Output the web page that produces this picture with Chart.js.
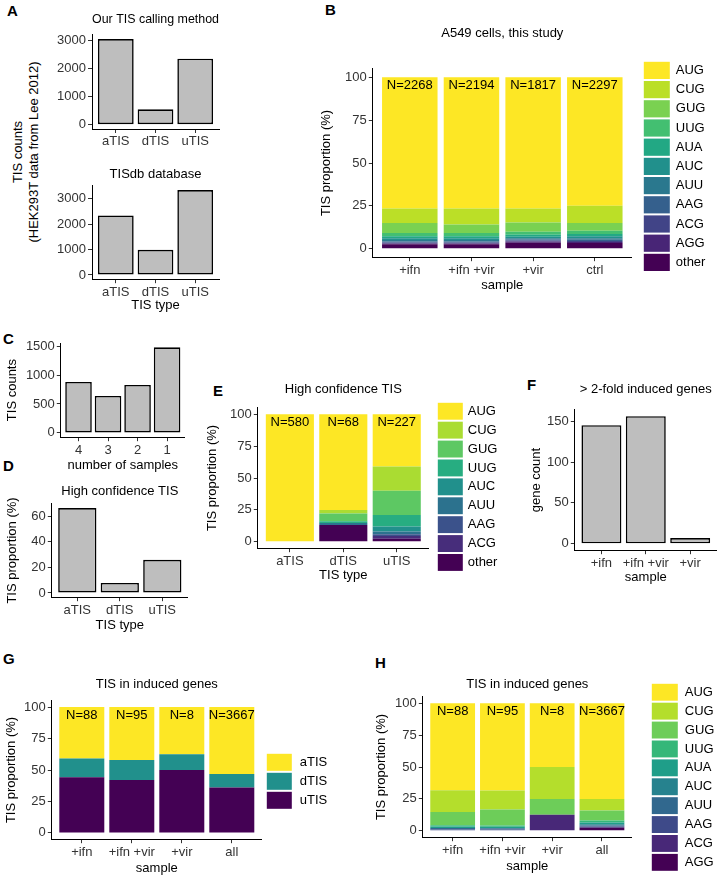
<!DOCTYPE html>
<html>
<head>
<meta charset="utf-8">
<script src="https://cdn.jsdelivr.net/npm/chart.js@4.4.0/dist/chart.umd.min.js"></script>
<style>
  body { margin: 0; width: 719px; height: 878px; position: relative; overflow: hidden; background: #fff;
         font-family: "Liberation Sans", Arial, sans-serif; }
  canvas { position: absolute; }
  .tag { position: absolute; font-weight: bold; font-size: 15px; line-height: 15px; }
  #ylabA { position: absolute; left: 26px; top: 152px; width: 230px; text-align: center; font-size: 13px;
           line-height: 16px; transform: translate(-50%, -50%) rotate(-90deg); }
</style>
</head>
<body>
<div class="tag" style="left:7px;top:3px">A</div>
<div class="tag" style="left:325px;top:2px">B</div>
<div class="tag" style="left:3px;top:331px">C</div>
<div class="tag" style="left:3px;top:458px">D</div>
<div class="tag" style="left:213px;top:383px">E</div>
<div class="tag" style="left:527px;top:377px">F</div>
<div class="tag" style="left:3px;top:651px">G</div>
<div class="tag" style="left:375px;top:655px">H</div>
<div id="ylabA">TIS counts<br>(HEK293T data from Lee 2012)</div>
<script>
// ---- data ----
// A: TIS counts per type
const tisTypes = ['aTIS', 'dTIS', 'uTIS'];
const countsOurMethod = [3050, 550, 2350];
const countsTISdb = [2350, 990, 3350];
const countTicksA = [0, 1000, 2000, 3000];

// B: start codon proportions (%) per sample, codon order as codonsB
const samplesB = ['+ifn', '+ifn +vir', '+vir', 'ctrl'];
const nLabelsB = ['N=2268', 'N=2194', 'N=1817', 'N=2297'];
const codonsB = ['AUG', 'CUG', 'GUG', 'UUG', 'AUA', 'AUC', 'AUU', 'AAG', 'ACG', 'AGG', 'other'];
const pctIfn = [76.6, 8.5, 5.8, 1.9, 1.2, 1.0, 0.8, 0.6, 0.6, 0.5, 2.5];
const pctIfnVir = [76.6, 9.3, 5.0, 1.9, 1.2, 1.0, 0.8, 0.6, 0.6, 0.5, 2.5];
const pctVir = [76.6, 8.1, 5.4, 1.8, 1.1, 0.9, 0.8, 0.6, 0.6, 0.6, 3.5];
const pctCtrl = [75.0, 10.1, 4.4, 2.0, 1.3, 1.1, 0.9, 0.7, 0.6, 0.6, 3.3];
const pctTicks = [0, 25, 50, 75, 100];

// C: TIS counts by number of samples
const sampleCounts = ['4', '3', '2', '1'];
const countsBySamples = [880, 640, 830, 1480];
const countTicksC = [0, 500, 1000, 1500];

// D: high confidence TIS proportion
const hcProportion = [66.3, 7.8, 25.9];
const pctTicksD = [0, 20, 40, 60];

// E: codon proportions of high confidence TIS
const nLabelsE = ['N=580', 'N=68', 'N=227'];
const codonsE = ['AUG', 'CUG', 'GUG', 'UUG', 'AUC', 'AUU', 'AAG', 'ACG', 'other'];
const pctE_aTIS = [100, 0, 0, 0, 0, 0, 0, 0, 0];
const pctE_dTIS = [75.0, 2.9, 5.9, 1.5, 0, 1.5, 0, 0, 13.2];
const pctE_uTIS = [41.0, 19.0, 19.0, 9.0, 4.0, 2.0, 1.5, 2.0, 2.5];

// F: > 2-fold induced genes
const samplesF = ['+ifn', '+ifn +vir', '+vir'];
const geneCounts = [145, 156, 7];
const geneTicks = [0, 50, 100, 150];

// G: TIS type in induced genes (aTIS, dTIS, uTIS)
const samplesG = ['+ifn', '+ifn +vir', '+vir', 'all'];
const nLabelsG = ['N=88', 'N=95', 'N=8', 'N=3667'];
const pctG_ifn = [40.9, 14.8, 44.3];
const pctG_ifnVir = [42.1, 15.8, 42.1];
const pctG_vir = [37.5, 12.5, 50.0];
const pctG_all = [53.2, 10.8, 36.0];

// H: start codons in induced genes
const codonsH = ['AUG', 'CUG', 'GUG', 'UUG', 'AUA', 'AUC', 'AUU', 'AAG', 'ACG', 'AGG'];
const pctH_ifn = [68.3, 17.0, 10.3, 1.1, 1.1, 0, 1.1, 1.1, 0, 0];
const pctH_ifnVir = [68.4, 14.7, 12.6, 1.05, 1.05, 0, 1.05, 1.05, 0, 0];
const pctH_vir = [50.0, 25.0, 12.5, 0, 0, 0, 0, 0, 12.5, 0];
const pctH_all = [75.0, 9.1, 7.8, 1.6, 1.3, 1.0, 0.8, 0.6, 0.6, 2.2];

// ---- styles ----
const viridis11 = ['#FDE725', '#BBDF27', '#7AD151', '#43BF71', '#22A884', '#21908C', '#2A788E', '#35608D', '#414487', '#482576', '#440154'];
const viridis9 = ['#FDE725', '#AADC32', '#5DC863', '#27AD81', '#21908C', '#2C728E', '#3B528B', '#472D7B', '#440154'];
const viridis10 = ['#FDE725', '#B4DE2C', '#6DCD59', '#35B779', '#1F9E89', '#26828E', '#31688E', '#3E4A89', '#482878', '#440154'];
const viridis3 = ['#FDE725', '#21908C', '#440154'];

const FS = 13, LH = FS * 1.2;
Chart.defaults.font.family = '"Liberation Sans", Arial, sans-serif';
Chart.defaults.font.size = FS;
Chart.defaults.color = '#000';

function nLabelPlugin(labels) {
  return {
    id: 'nLabels',
    afterDatasetsDraw(chart) {
      const { ctx, scales: { x, y } } = chart;
      ctx.save();
      ctx.font = FS + 'px "Liberation Sans", Arial, sans-serif';
      ctx.fillStyle = '#000';
      ctx.textAlign = 'center';
      ctx.textBaseline = 'middle';
      labels.forEach((t, i) => ctx.fillText(t, x.getPixelForValue(i + 1), y.getPixelForValue(100) + 8));
      ctx.restore();
    }
  };
}

// ggplot-like key list, drawn from the dataset labels and colours
function keyPlugin(k) {
  return {
    id: 'keys',
    afterDraw(chart) {
      const ctx = chart.ctx;
      const items = chart.data.datasets.slice().reverse();
      ctx.save();
      ctx.font = FS + 'px "Liberation Sans", Arial, sans-serif';
      ctx.textBaseline = 'middle';
      items.forEach((ds, i) => {
        const y = k.y + i * k.step;
        ctx.fillStyle = ds.backgroundColor;
        ctx.fillRect(k.x, y + 1, k.w, k.step - 2);
        ctx.fillStyle = '#000';
        ctx.fillText(ds.label, k.tx, y + k.step / 2);
      });
      ctx.restore();
    }
  };
}

function axisStyle() {
  return {
    offset: false,
    grid: { drawOnChartArea: false, drawTicks: true, tickLength: 4, color: '#333', offset: false },
    border: { display: true, color: '#000', width: 1 }
  };
}

function draw(p, cats, datasets, yTicks, ymax, nLabels) {
  const cl = p.yTitleX != null ? p.yTitleX - LH / 2 : p.x0 - 45;
  const ct = p.titleY != null ? p.titleY - LH / 2 : p.y0 - 10;
  const cr = p.x1 + (p.keys ? 90 : 3);
  const cb = p.xTitleY != null ? p.xTitleY + LH / 2 : p.y1 + 25;
  const cv = document.createElement('canvas');
  cv.width = Math.round(cr - cl);
  cv.height = Math.round(cb - ct);
  cv.style.left = cl + 'px';
  cv.style.top = ct + 'px';
  document.body.appendChild(cv);

  const plugins = [];
  if (nLabels) plugins.push(nLabelPlugin(nLabels));
  if (p.keys) plugins.push(keyPlugin({ x: p.keys.x - cl, y: p.keys.y - ct, w: p.keys.w, step: p.keys.step, tx: p.keys.tx - cl }));

  new Chart(cv, {
    type: 'bar',
    data: { datasets },
    options: {
      responsive: false, animation: false, devicePixelRatio: 1,
      layout: { padding: { left: 0, top: p.titleY != null ? 0 : 10, right: cv.width - (p.x1 - cl), bottom: 0 } },
      plugins: {
        legend: { display: false },
        tooltip: { enabled: false },
        title: {
          display: !!p.title, text: p.title || '', fullSize: false, color: '#000',
          font: { size: FS, weight: 'normal' },
          padding: { top: 0, bottom: p.titleY != null ? p.y0 - p.titleY - LH / 2 : 0 }
        }
      },
      scales: {
        x: Object.assign({
          type: 'linear', min: 0.4, max: cats.length + 0.6, stacked: true, bounds: 'data',
          afterBuildTicks: s => { s.ticks = cats.map((c, i) => ({ value: i + 1 })); },
          afterFit: s => { s.height = cb - p.y1; },
          ticks: { callback: v => cats[v - 1], padding: 1, color: '#333', autoSkip: false, maxRotation: 0 },
          title: { display: !!p.xTitle, text: p.xTitle || '', padding: 0, color: '#000' }
        }, axisStyle()),
        y: Object.assign({
          min: -0.05 * ymax, max: 1.05 * ymax, stacked: true, bounds: 'data',
          afterBuildTicks: s => { s.ticks = yTicks.map(v => ({ value: v })); },
          afterFit: s => { s.width = p.x0 - cl; },
          ticks: { callback: v => String(v), padding: 2, color: '#333' },
          title: { display: !!p.yTitle, text: p.yTitle || '', padding: 0, color: '#000' }
        }, axisStyle())
      }
    },
    plugins
  });
}

function greyBars(values) {
  return [{
    data: values.map((v, i) => ({ x: i + 1, y: v })),
    backgroundColor: '#BEBEBE', borderColor: '#000', borderWidth: 1.6, borderSkipped: false,
    barPercentage: 0.9, categoryPercentage: 1
  }];
}

// one dataset per codon/type; first category ends on top of the stack
function stackBars(labels, colors, perSample) {
  return labels.map((lab, k) => ({
    label: lab,
    data: perSample.map((arr, i) => ({ x: i + 1, y: arr[k] })),
    backgroundColor: colors[k], borderWidth: 0,
    barPercentage: 0.9, categoryPercentage: 1
  })).reverse();
}

// A
draw({ x0: 92, x1: 219, y0: 35, y1: 129, title: 'Our TIS calling method', titleY: 20 },
  tisTypes, greyBars(countsOurMethod), countTicksA, Math.max(...countsOurMethod));
draw({ x0: 92, x1: 219, y0: 186, y1: 279, title: 'TISdb database', titleY: 175, xTitle: 'TIS type', xTitleY: 305 },
  tisTypes, greyBars(countsTISdb), countTicksA, Math.max(...countsTISdb));

// B
draw({ x0: 373, x1: 632, y0: 69, y1: 257, title: 'A549 cells, this study', titleY: 34,
       xTitle: 'sample', xTitleY: 285, yTitle: 'TIS proportion (%)', yTitleX: 327,
       keys: { x: 644, y: 61, w: 26, step: 19.2, tx: 676 } },
  samplesB, stackBars(codonsB, viridis11, [pctIfn, pctIfnVir, pctVir, pctCtrl]), pctTicks, 100, nLabelsB);

// C
draw({ x0: 61, x1: 185, y0: 343, y1: 437, xTitle: 'number of samples', xTitleY: 465, yTitle: 'TIS counts', yTitleX: 13 },
  sampleCounts, greyBars(countsBySamples), countTicksC, Math.max(...countsBySamples));

// D
draw({ x0: 52, x1: 188, y0: 504, y1: 597, title: 'High confidence TIS', titleY: 492,
       xTitle: 'TIS type', xTitleY: 625, yTitle: 'TIS proportion (%)', yTitleX: 13 },
  tisTypes, greyBars(hcProportion), pctTicksD, Math.max(...hcProportion));

// E
draw({ x0: 258, x1: 429, y0: 408, y1: 548, title: 'High confidence TIS', titleY: 390,
       xTitle: 'TIS type', xTitleY: 575, yTitle: 'TIS proportion (%)', yTitleX: 213,
       keys: { x: 438, y: 402, w: 25, step: 18.9, tx: 468 } },
  tisTypes, stackBars(codonsE, viridis9, [pctE_aTIS, pctE_dTIS, pctE_uTIS]), pctTicks, 100, nLabelsE);

// F
draw({ x0: 575, x1: 717, y0: 410, y1: 550, title: '> 2-fold induced genes', titleY: 390,
       xTitle: 'sample', xTitleY: 577, yTitle: 'gene count', yTitleX: 537 },
  samplesF, greyBars(geneCounts), geneTicks, Math.max(...geneCounts));

// G
draw({ x0: 52, x1: 262, y0: 701, y1: 839, title: 'TIS in induced genes', titleY: 685,
       xTitle: 'sample', xTitleY: 868, yTitle: 'TIS proportion (%)', yTitleX: 12,
       keys: { x: 267, y: 753, w: 25, step: 19, tx: 300 } },
  samplesG, stackBars(tisTypes, viridis3, [pctG_ifn, pctG_ifnVir, pctG_vir, pctG_all]), pctTicks, 100, nLabelsG);

// H
draw({ x0: 423, x1: 632, y0: 697, y1: 837, title: 'TIS in induced genes', titleY: 685,
       xTitle: 'sample', xTitleY: 866, yTitle: 'TIS proportion (%)', yTitleX: 382,
       keys: { x: 652, y: 683, w: 26, step: 18.9, tx: 685 } },
  samplesG, stackBars(codonsH, viridis10, [pctH_ifn, pctH_ifnVir, pctH_vir, pctH_all]), pctTicks, 100, nLabelsG);
</script>
</body>
</html>
